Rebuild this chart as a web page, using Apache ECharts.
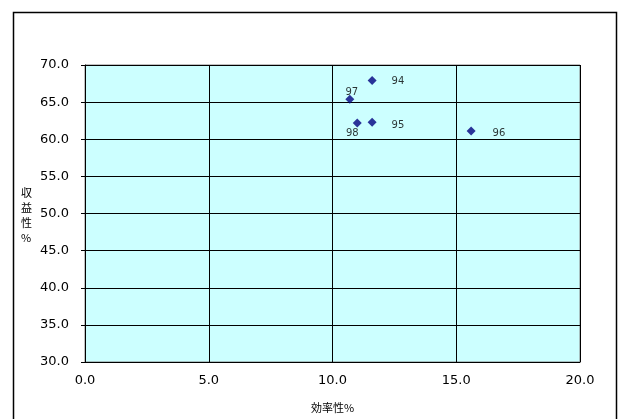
<!DOCTYPE html>
<html><head><meta charset="utf-8">
<script src="https://cdn.jsdelivr.net/npm/echarts@6/dist/echarts.min.js"></script>
<style>html,body{margin:0;padding:0;background:#fff}#c{width:618px;height:419px}</style>
</head><body><div id="c"></div>
<script>
const names = ['94','95','96','97','98'];
const xValues = [11.6, 11.6, 15.6, 10.7, 11.0];
const yValues = [67.9, 62.3, 61.1, 65.4, 62.2];
const xTicks = {min: 0, max: 20, interval: 5};
const yTicks = {min: 30, max: 70, interval: 5};
const xTitle = '効率性%';
const yTitle = '収益性%';

const labelStyles = {
  '94': {position: 'right', offset: [10, 1]},
  '95': {position: 'right', offset: [10, 3]},
  '96': {position: 'right', offset: [12, 2]},
  '97': {position: 'top', offset: [2, 8]},
  '98': {position: 'bottom', offset: [-5, -4]}
};

const data = names.map((n, i) => ({
  name: n,
  value: [xValues[i], yValues[i]],
  label: Object.assign({show: true, formatter: n}, labelStyles[n])
}));

const numFont = '"DejaVu Sans", sans-serif';
const cjkFont = '"Noto Sans CJK JP", sans-serif';
const chart = echarts.init(document.getElementById('c'), null, {renderer: 'canvas'});
chart.setOption({
  animation: false,
  backgroundColor: '#ffffff',
  graphic: [{
    type: 'rect', left: 11, top: 10, z: -10,
    shape: {width: 603, height: 420},
    style: {fill: 'none', stroke: '#000', lineWidth: 1.5}
  }, {
    type: 'text', left: 21, top: 185,
    style: {text: yTitle.split('').join('\n'), font: '11px ' + cjkFont, fill: '#000', lineHeight: 15, align: 'center'}
  }],
  grid: {left: 85, right: 38, top: 65, bottom: 57, show: true, backgroundColor: '#ccffff', borderColor: '#808080', borderWidth: 1},
  xAxis: {
    type: 'value', min: xTicks.min, max: xTicks.max, interval: xTicks.interval,
    name: xTitle, nameLocation: 'middle', nameGap: 40,
    nameTextStyle: {fontFamily: cjkFont, fontSize: 11, color: '#000'},
    axisLine: {show: true, lineStyle: {color: '#000'}},
    axisTick: {show: false},
    axisLabel: {formatter: v => v.toFixed(1), fontFamily: numFont, fontSize: 13, color: '#000', margin: 12},
    splitLine: {show: true, lineStyle: {color: '#000', width: 1}}
  },
  yAxis: {
    type: 'value', min: yTicks.min, max: yTicks.max, interval: yTicks.interval,
    axisLine: {show: true, lineStyle: {color: '#000'}},
    axisTick: {show: true, length: 4, inside: false, lineStyle: {color: '#000'}},
    axisLabel: {formatter: v => v.toFixed(1), fontFamily: numFont, fontSize: 13, color: '#000', margin: 16},
    splitLine: {show: true, lineStyle: {color: '#000', width: 1}}
  },
  series: [{
    type: 'scatter',
    symbol: 'diamond',
    symbolSize: 9,
    itemStyle: {color: '#000080'},
    label: {fontFamily: numFont, fontSize: 10, color: '#000'},
    data: data
  }]
});
</script></body></html>
